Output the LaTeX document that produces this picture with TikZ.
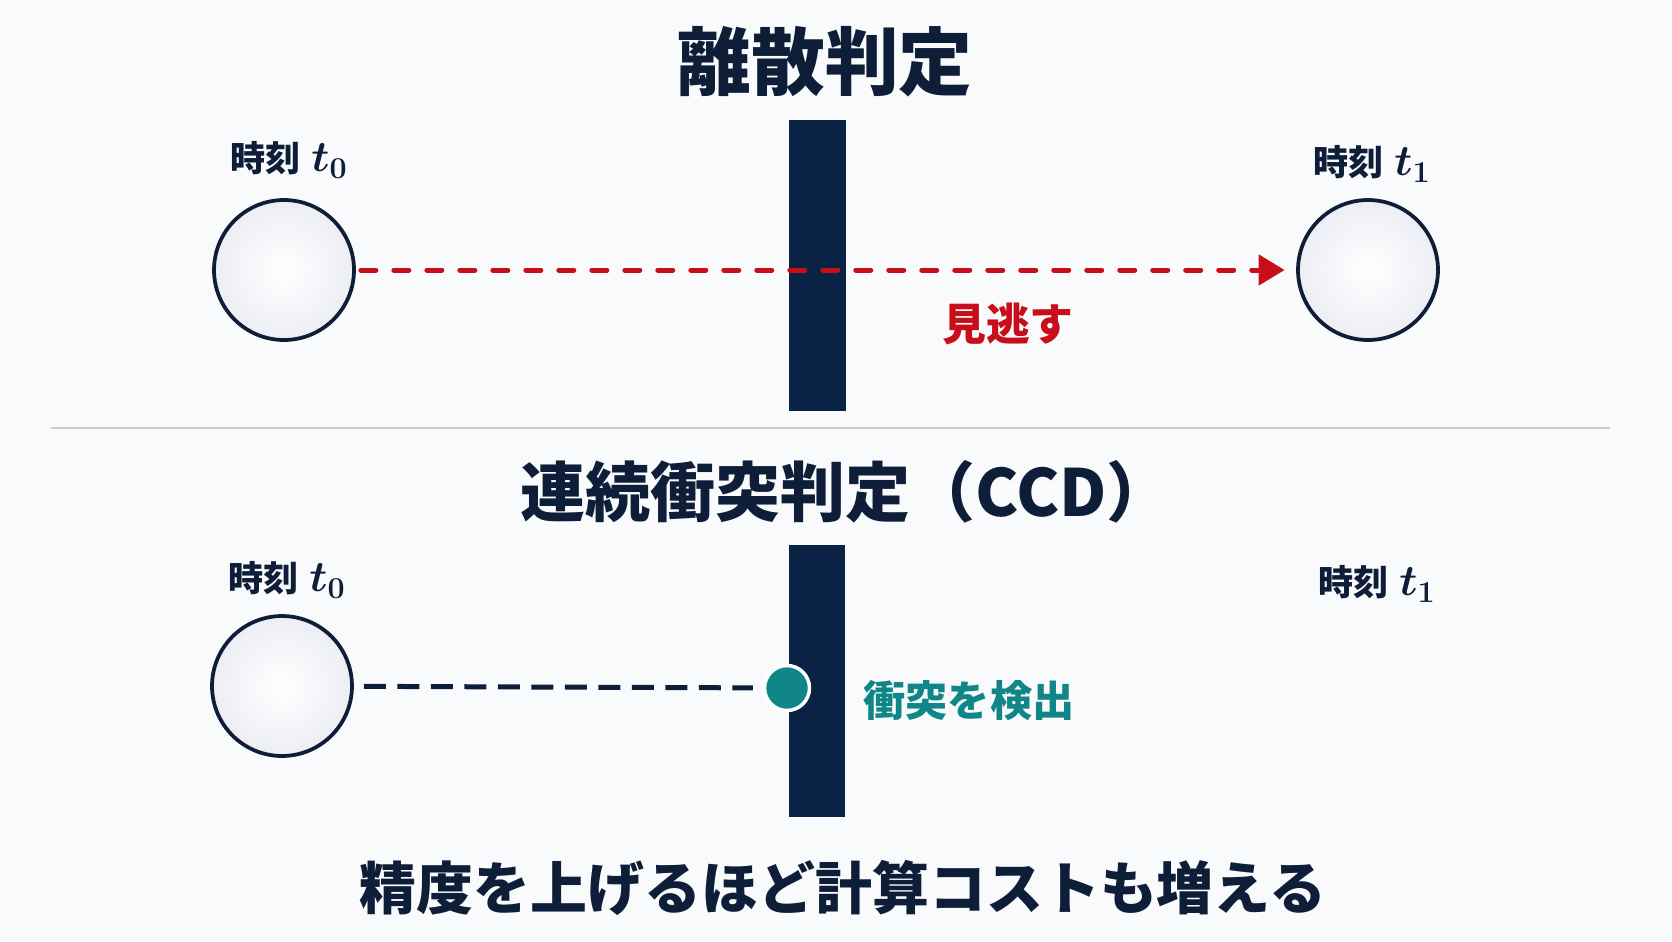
\documentclass[tikz,border=0pt]{standalone}
\usepackage{fontspec}
\newfontfamily\jp{Noto Sans CJK JP}
\usepackage{tikz}
\usetikzlibrary{arrows.meta}
\definecolor{navy}{RGB}{15,30,56}
\definecolor{wallblue}{RGB}{10,34,68}
\definecolor{missred}{RGB}{200,14,26}
\definecolor{hitteal}{RGB}{16,134,136}
\definecolor{bgwhite}{RGB}{249,250,251}
\definecolor{sepgray}{RGB}{200,202,206}
\definecolor{ballshade}{RGB}{236,238,244}

\newcommand{\tlab}[1]{{\jp\bfseries 時刻}\hspace{0.3em}{\fontsize{26}{28}\selectfont\boldmath$t_{#1}$}}

\tikzset{
  ball/.style={circle, draw=navy, line width=0.075cm, minimum size=2.8cm, inner sep=0pt,
    inner color=white, outer color=ballshade},
  wall/.style={fill=wallblue},
  tlabel/.style={text=navy, font=\fontsize{20}{24}\selectfont},
  title/.style={text=navy, font=\fontsize{42}{48}\selectfont\jp\bfseries},
  miss/.style={missred, line width=0.1cm, line cap=round, dash pattern=on 0.3cm off 0.36cm,
    -{Triangle[length=0.52cm,width=0.6cm]}},
  seen/.style={navy, line width=0.1cm, dash pattern=on 0.44cm off 0.23cm},
  hitdot/.style={circle, fill=hitteal, draw=white, line width=0.07cm, minimum size=0.9cm, inner sep=0pt}
}

\begin{document}
\begin{tikzpicture}[x=0.02cm, y=-0.02cm]
\fill[bgwhite] (0,0) rectangle (1672,941);
\useasboundingbox (0,0) rectangle (1672,941);

\node[title] (disc) at (825,62) {離散判定};
\node[tlabel] (lt0) at (289,160) {\tlab{0}};
\node[tlabel] (lt1) at (1372,164) {\tlab{1}};
\fill[wall] (789,120) rectangle (846,411);
\node[ball] (a0) at (284,270) {};
\node[ball] (a1) at (1368,270) {};
\draw[miss, shorten <=0.1cm, shorten >=0.23cm] (a0) -- (a1);
\node[text=missred, font=\fontsize{25}{30}\selectfont\jp\bfseries] (miss) at (1008,324) {見逃す};

\draw[sepgray, line width=0.04cm] (51,428) -- (1610,428);

\node[title, font=\fontsize{37}{44}\selectfont\jp\bfseries] (ccd) at (846,492) {連続衝突判定（CCD）};
\node[tlabel] (lb0) at (287,580) {\tlab{0}};
\node[tlabel] (lb1) at (1377,584) {\tlab{1}};
\fill[wall] (789,545) rectangle (845,817);
\node[ball] (b0) at (282,686) {};
\node[hitdot] (hit) at (787,688) {};
\draw[seen, shorten <=0.2cm, shorten >=0.2cm] (b0) -- (hit);
\node[text=hitteal, font=\fontsize{24}{28}\selectfont\jp\bfseries] (det) at (969,701) {衝突を検出};

\node[text=navy, font=\fontsize{32.4}{38}\selectfont\jp\bfseries] (cost) at (843,888) {精度を上げるほど計算コストも増える};
\end{tikzpicture}
\end{document}
